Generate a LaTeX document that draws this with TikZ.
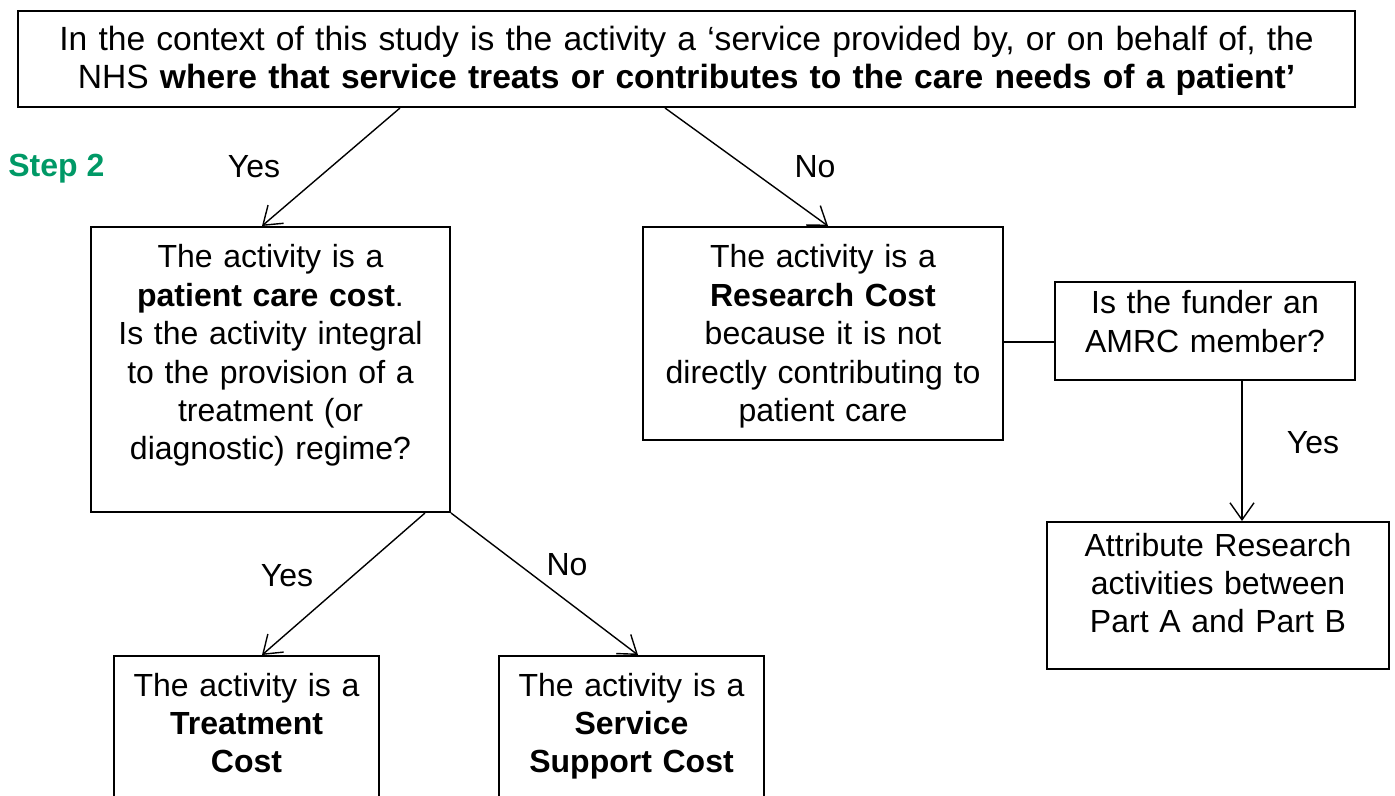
\documentclass[tikz,border=0pt]{standalone}
\usepackage{fontspec}
\setmainfont{Liberation Sans}
\usetikzlibrary{arrows.meta}
\definecolor{stepgreen}{RGB}{0,153,102}

\begin{document}
\begin{tikzpicture}[x=0.5pt,y=-0.5pt,
  every node/.style={font=\fontsize{16}{19.2}\selectfont},
  box/.style={draw,line width=1pt,anchor=north west,inner xsep=0pt,inner ysep=0pt,align=center},
  arr/.style={->,>={Straight Barb[length=8.5pt,width=12pt]},line width=0.7pt}]
 \useasboundingbox (0,0) rectangle (1395,796);
 \clip (0,0) rectangle (1395,796);
 \node[box,text width=668.5pt,text height=20pt,text depth=28pt,font=\fontsize{16.8}{19}\selectfont] (top) at (17,10)
  {In the context of this study is the activity a ‘service provided by, or on behalf of, the\\
   NHS \textbf{where that service treats or contributes to the care needs of a patient’}}; %question
 \node[anchor=base west,inner sep=0pt,text=stepgreen] (step) at (8,177) {\textbf{Step 2}};
 \node[anchor=base] (yes1) at (254,178) {Yes};
 \node[anchor=base] (no1) at (815,178) {No};
 \node[box,text width=179.5pt,text height=20.5pt,text depth=122pt] (care) at (90,226)
  {The activity is a\\ \textbf{patient care cost}.\\ Is the activity integral\\ to the provision of a\\ treatment (or\\ diagnostic) regime?}; %yes
 \node[box,text width=180pt,text height=20.5pt,text depth=86pt] (rescost) at (642,226)
  {The activity is a\\ \textbf{Research Cost}\\ because it is not\\ directly contributing to\\ patient care}; %no
 \node[box,text width=150pt,text height=16pt,text depth=33pt] (amrc) at (1054,281)
  {Is the funder an\\ AMRC member?};
 \node[anchor=base] (yes3) at (1313,453) {Yes};
 \node[box,text width=171pt,text height=17pt,text depth=56.5pt] (attr) at (1046,521)
  {Attribute Research\\ activities between\\ Part A and Part B};
 \node[anchor=base] (yes2) at (287,586) {Yes};
 \node[anchor=base] (no2) at (567,575) {No};
 \node[box,text width=132.5pt,text height=20pt,text depth=80pt] (treat) at (113,655)
  {The activity is a\\ \textbf{Treatment}\\ \textbf{Cost}};
 \node[box,text width=132.5pt,text height=20pt,text depth=80pt] (support) at (498,655)
  {The activity is a\\ \textbf{Service}\\ \textbf{Support Cost}};
 \draw[arr] (top.south -| 400,0)--(care.north -| 262,0);
 \draw[arr] (top.south -| 665,0)--(rescost.north -| 828,0);
 \draw[line width=0.7pt] (rescost.east |- 0,342)--(amrc.west |- 0,342);
 \draw[arr] (amrc.south -| 1242,0)--(attr.north -| 1242,0);
 \draw[arr] (care.south -| 425,0)--(treat.north -| 262,0);
 \draw[arr] (care.south east)--(support.north -| 638,0);
\end{tikzpicture}
\end{document}
